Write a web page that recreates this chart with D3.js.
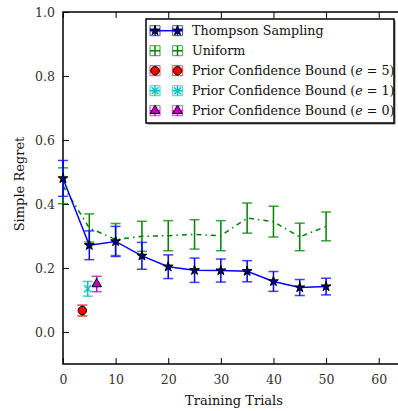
<!DOCTYPE html>
<html>
<head>
<meta charset="utf-8">
<script src="https://cdn.jsdelivr.net/npm/d3@7"></script>
<style>
  body { margin: 0; background: #fff; }
  svg { display: block; font-family: "DejaVu Serif", serif; }
</style>
</head>
<body>
<svg id="chart" width="398" height="411"></svg>
<script>
// data
const trials = [0, 5, 10, 15, 20, 25, 30, 35, 40, 45, 50];
const thompson = [0.48, 0.271, 0.283, 0.238, 0.204, 0.193, 0.192, 0.190, 0.158, 0.139, 0.142];
const thompsonErr = [0.056, 0.045, 0.047, 0.042, 0.037, 0.038, 0.036, 0.033, 0.031, 0.025, 0.026];
const uniform = [0.457, 0.325, 0.289, 0.299, 0.301, 0.305, 0.301, 0.356, 0.345, 0.297, 0.330];
const uniformErr = [0.056, 0.044, 0.050, 0.047, 0.047, 0.046, 0.047, 0.047, 0.048, 0.043, 0.045];
const pcbX = [3.67, 4.7, 6.4];
const pcbY = [0.067, 0.135, 0.150];
const pcbErr = [0.017, 0.023, 0.024];
const xTicks = [0, 10, 20, 30, 40, 50, 60];
const yTicks = [0.0, 0.2, 0.4, 0.6, 0.8, 1.0];
const legendLabels = ["Thompson Sampling", "Uniform", "Prior Confidence Bound", "Prior Confidence Bound", "Prior Confidence Bound"];
const legendE = [null, null, "5", "1", "0"];

const margin = {top: 12, left: 63, right: -7, bottom: 47};
const width = 398, height = 411;
const svg = d3.select("#chart");

const x = d3.scaleLinear().domain([0, 65]).range([margin.left, width - margin.right]);
const y = d3.scaleLinear().domain([-0.1, 1.0]).range([height - margin.bottom, margin.top]);

const blue = "#0000ff", green = "#008000", red = "#ff0000", cyan = "#00bfbf", magenta = "#bf00bf";
const capW = 5;

// axes with inward ticks
svg.append("g")
    .attr("transform", `translate(0,${y(-0.1)})`)
    .call(d3.axisBottom(x).tickValues(xTicks).tickSize(-6).tickPadding(11).tickFormat(d3.format("d")))
    .call(g => g.select(".domain").remove());
svg.append("g")
    .attr("transform", `translate(0,${y(1.0)})`)
    .call(d3.axisTop(x).tickValues(xTicks).tickSize(-6).tickFormat(""))
    .call(g => g.select(".domain").remove());
svg.append("g")
    .attr("transform", `translate(${x(0)},0)`)
    .call(d3.axisLeft(y).tickValues(yTicks).tickSize(-6).tickPadding(8).tickFormat(d3.format(".1f")))
    .call(g => g.select(".domain").remove());

svg.selectAll(".tick line").attr("stroke", "#000").attr("stroke-width", 1);
svg.selectAll(".tick text").attr("font-family", "DejaVu Serif").attr("font-size", 12.5).attr("fill", "#333");

// frame
svg.append("rect")
    .attr("x", x(0)).attr("y", y(1.0))
    .attr("width", x(65) - x(0)).attr("height", y(-0.1) - y(1.0))
    .attr("fill", "none").attr("stroke", "#000").attr("stroke-width", 1.5);

function errorBars(g, xs, ys, es, color) {
    xs.forEach((xv, i) => {
        const cx = x(xv), top = y(ys[i] + es[i]), bot = y(ys[i] - es[i]);
        g.append("line").attr("x1", cx).attr("x2", cx).attr("y1", top).attr("y2", bot)
            .attr("stroke", color).attr("stroke-width", 1.5);
        [top, bot].forEach(yy => g.append("line")
            .attr("x1", cx - capW).attr("x2", cx + capW).attr("y1", yy).attr("y2", yy)
            .attr("stroke", color).attr("stroke-width", 1.5).attr("stroke-opacity", 0.75));
    });
}

const plot = svg.append("g");
const line = d3.line().x((d, i) => x(trials[i])).y(d => y(d));

// uniform
plot.append("path").datum(uniform).attr("d", line)
    .attr("fill", "none").attr("stroke", green).attr("stroke-width", 1.5)
    .attr("stroke-dasharray", "5,4,1.5,4");
errorBars(plot, trials, uniform, uniformErr, green);

// thompson
errorBars(plot, trials, thompson, thompsonErr, blue);
plot.append("path").datum(thompson).attr("d", line)
    .attr("fill", "none").attr("stroke", blue).attr("stroke-width", 1.5);

const star = d3.symbol().type(d3.symbolStar).size(30);
function starAt(g, cx, cy) {
    g.append("path").attr("d", star).attr("transform", `translate(${cx},${cy})`)
        .attr("fill", "#000080").attr("stroke", "#000").attr("stroke-width", 1);
}
trials.forEach((t, i) => starAt(plot, x(t), y(thompson[i])));

// prior confidence bound points
errorBars(plot, [pcbX[0]], [pcbY[0]], [pcbErr[0]], red);
errorBars(plot, [pcbX[1]], [pcbY[1]], [pcbErr[1]], cyan);
errorBars(plot, [pcbX[2]], [pcbY[2]], [pcbErr[2]], magenta);

function circleAt(g, cx, cy) {
    g.append("circle").attr("cx", cx).attr("cy", cy).attr("r", 4.2)
        .attr("fill", red).attr("stroke", "#000").attr("stroke-width", 1);
}
function crossAt(g, cx, cy) {
    g.append("path").attr("d", `M${cx - 3.5},${cy - 3.5}L${cx + 3.5},${cy + 3.5}M${cx - 3.5},${cy + 3.5}L${cx + 3.5},${cy - 3.5}`)
        .attr("stroke", cyan).attr("stroke-width", 1.3);
}
const tri = d3.symbol().type(d3.symbolTriangle).size(40);
function triAt(g, cx, cy) {
    g.append("path").attr("d", tri).attr("transform", `translate(${cx},${cy})`)
        .attr("fill", magenta).attr("stroke", "#000").attr("stroke-width", 1);
}
circleAt(plot, x(pcbX[0]), y(pcbY[0]));
crossAt(plot, x(pcbX[1]), y(pcbY[1]));
triAt(plot, x(pcbX[2]), y(pcbY[2]));

// axis labels
svg.append("text").attr("x", (x(0) + x(65)) / 2).attr("y", 405)
    .attr("text-anchor", "middle").attr("font-size", 13).attr("fill", "#111")
    .text("Training Trials");
svg.append("text").attr("transform", `translate(24,${(y(1) + y(-0.1)) / 2 - 4}) rotate(-90)`)
    .attr("text-anchor", "middle").attr("font-size", 13).attr("fill", "#111")
    .text("Simple Regret");

// legend
const leg = svg.append("g");
leg.append("rect").attr("x", 147.5).attr("y", 20.5).attr("width", 248).attr("height", 104)
    .attr("fill", "#777");
leg.append("rect").attr("x", 146).attr("y", 19).attr("width", 248).attr("height", 104)
    .attr("fill", "#fff").attr("stroke", "#000").attr("stroke-width", 1.5);

const colors = [blue, green, red, cyan, magenta];
const h1 = 155, h2 = 177.5;
legendLabels.forEach((lab, i) => {
    const cy = 30.7 + 20 * i;
    const c = colors[i];
    if (i === 0) {
        leg.append("line").attr("x1", h1).attr("x2", h2).attr("y1", cy).attr("y2", cy)
            .attr("stroke", c).attr("stroke-width", 1.5);
    }
    [h1, h2].forEach(hx => {
        const s = 5;
        leg.append("path")
            .attr("d", `M${hx},${cy - s}V${cy + s}M${hx - s},${cy}H${hx + s}`)
            .attr("stroke", c).attr("stroke-width", 1.5).attr("fill", "none");
        leg.append("path")
            .attr("d", `M${hx - s},${cy - s}H${hx + s}M${hx - s},${cy + s}H${hx + s}M${hx - s},${cy - s}V${cy + s}M${hx + s},${cy - s}V${cy + s}`)
            .attr("stroke", c).attr("stroke-width", 1.3).attr("stroke-opacity", 0.6).attr("fill", "none");
        if (i === 0) starAt(leg, hx, cy);
        if (i === 2) circleAt(leg, hx, cy);
        if (i === 3) crossAt(leg, hx, cy);
        if (i === 4) triAt(leg, hx, cy);
    });
    const t = leg.append("text").attr("x", 192).attr("y", cy + 4.5)
        .attr("font-size", 12.7).attr("fill", "#111");
    t.append("tspan").text(lab);
    if (legendE[i] !== null) {
        t.append("tspan").text(" (");
        t.append("tspan").attr("font-style", "italic").text("e");
        t.append("tspan").text(" = " + legendE[i] + ")");
    }
});
</script>
</body>
</html>
